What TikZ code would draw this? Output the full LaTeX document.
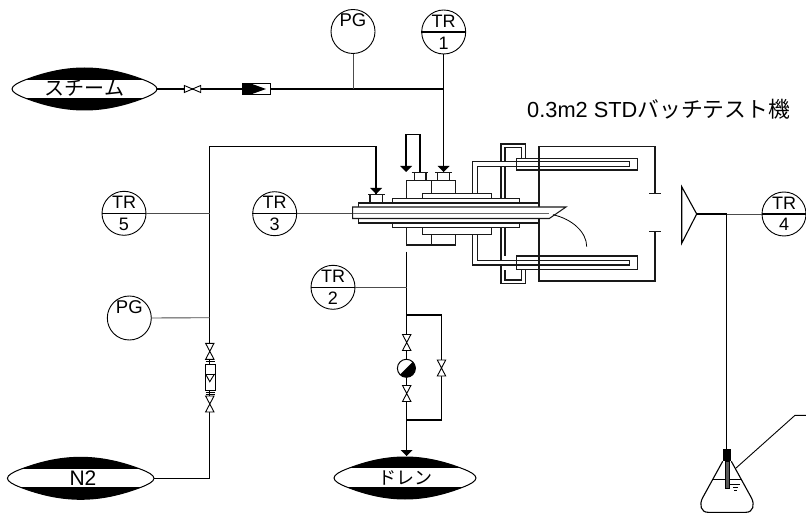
\documentclass[tikz,border=0pt]{standalone}
\usepackage{fontspec}
\setmainfont{Liberation Sans}
\newfontfamily\cjk{Noto Sans CJK JP}
\tikzset{
  pipe/.style={line width=1.05pt,draw=black},
  thinpipe/.style={line width=0.9pt,draw=black!70},
  inst/.style={circle,draw=black,line width=0.9pt,minimum size=44pt,inner sep=0pt,fill=white},
  divider/.style={line width=1.1pt,draw=black},
  instxt/.style={inner sep=0pt,font=\fontsize{18}{18}\selectfont},
  pgtxt/.style={inner sep=0pt,font=\fontsize{18.5}{18.5}\selectfont},
  vessel/.style={line width=1.05pt,draw=black!90},
  hvalve/.pic={\draw[line width=0.9pt,fill=white] (-8.2,-3.5)--(8.2,3.5)--(8.2,-3.5)--(-8.2,3.5)--cycle;},
  vvalve/.pic={\draw[line width=0.9pt,fill=white] (-4.2,-8)--(4.2,8)--(-4.2,8)--(4.2,-8)--cycle;},
  downhead/.pic={\fill[black] (-6,-6)--(6,-6)--(0,0)--cycle;},
}
\newcommand{\lensoutline}[4]{%
  (#1-#3,#2) .. controls (#1-#3,#2-#4*0.15) and (#1-#3*0.92,#2-#4*0.3) .. (#1-#3*0.82,#2-#4*0.43)
  .. controls (#1-#3*0.57,#2-#4*0.76) and (#1-#3*0.3,#2-#4) .. (#1,#2-#4)
  .. controls (#1+#3*0.3,#2-#4) and (#1+#3*0.57,#2-#4*0.76) .. (#1+#3*0.82,#2-#4*0.43)
  .. controls (#1+#3*0.92,#2-#4*0.3) and (#1+#3,#2-#4*0.15) .. (#1+#3,#2)
  .. controls (#1+#3,#2+#4*0.15) and (#1+#3*0.92,#2+#4*0.3) .. (#1+#3*0.82,#2+#4*0.43)
  .. controls (#1+#3*0.57,#2+#4*0.76) and (#1+#3*0.3,#2+#4) .. (#1,#2+#4)
  .. controls (#1-#3*0.3,#2+#4) and (#1-#3*0.57,#2+#4*0.76) .. (#1-#3*0.82,#2+#4*0.43)
  .. controls (#1-#3*0.92,#2+#4*0.3) and (#1-#3,#2+#4*0.15) .. (#1-#3,#2) -- cycle}
\newcommand{\lensbody}[6]{% cx, cy, half width, half height, band top, band bottom
  \begin{scope}
    \clip \lensoutline{#1}{#2}{#3}{#4};
    \fill[black] (#1-#3,#2-#4) rectangle (#1+#3,#2+#4);
    \fill[white] (#1-#3,#5) rectangle (#1+#3,#6);
  \end{scope}
  \draw[line width=1pt] \lensoutline{#1}{#2}{#3}{#4};
}
\begin{document}
\begin{tikzpicture}[x=1pt,y=-1pt]
\useasboundingbox (0,0) rectangle (806,513);

% ---------- named points
\coordinate (steamout) at (157,89);
\coordinate (n2out) at (154,478.3);
\coordinate (j1) at (443.7,89);
\coordinate (jpg) at (353,89);
\coordinate (jc1) at (209.8,478.3);
\coordinate (jc2) at (209.8,146.7);
\coordinate (jc3) at (376,146.7);
\coordinate (j5) at (209.8,213.3);
\coordinate (j6) at (209.8,317.7);
\coordinate (a3) at (376,194);
\coordinate (a1) at (443.7,172);
\coordinate (drtop) at (406.7,251.7);
\coordinate (drbot) at (406.7,456);
\coordinate (j2) at (406.7,287.3);
\coordinate (byt) at (406.7,315);
\coordinate (byb) at (406.7,420);
\coordinate (bytr) at (441.5,315);
\coordinate (bybr) at (441.5,420);
\coordinate (core) at (352.7,213.7);
\coordinate (hornt) at (696.7,214);
\coordinate (j4) at (726.7,214);
\coordinate (stopper) at (726.7,449.5);

% ---------- feed lenses
\lensbody{84.5}{89}{72.5}{21}{80}{98}
\node[inner sep=0pt,font=\cjk\fontsize{20}{20}\selectfont] (steam) at (84.5,88.5) {スチーム};
\lensbody{80.7}{478.3}{73.3}{21}{469}{487.3}
\node[inner sep=0pt,font=\fontsize{21}{21}\selectfont] (n2) at (83,478.5) {N2};
\lensbody{405}{478}{71}{21}{468.3}{487.3}
\node[inner sep=0pt,font=\cjk\fontsize{18}{18}\selectfont] (drain) at (405,477.5) {ドレン};

% ---------- pipes
\draw[pipe] (steamout) -- (jpg) -- (j1);
\draw[pipe] (j1) -- (a1);
\draw[pipe] (n2out) -- (jc1) -- (jc2) -- (jc3) -- (a3);
\draw[pipe] (drtop) -- (drbot);
\draw[pipe] (byt) -- (bytr) -- (bybr) -- (byb);
\draw[pipe] (j4) -- (stopper);
\draw[pipe] (hornt) -- (j4);

% ---------- instruments
\node[inst] (pgtop) at (353,31.5) {};
\node[pgtxt] at (353,20) {PG};
\draw[thinpipe] (pgtop.south) -- (jpg);

\node[inst] (tr1) at (443.7,32) {};
\draw[divider] (tr1.west) -- (tr1.east);
\node[instxt] at (443.7,21.5) {TR};
\node[instxt] at (443.7,43) {1};
\draw[pipe] (tr1.south) -- (j1);

\node[inst] (tr5) at (124,213.3) {};
\draw[divider] (tr5.west) -- (tr5.east);
\node[instxt] at (124,202.7) {TR};
\node[instxt] at (124,224) {5};
\draw[thinpipe] (tr5.east) -- (j5);

\node[inst] (pgleft) at (129.3,318) {};
\node[pgtxt] at (129.3,306.7) {PG};
\draw[thinpipe] (pgleft.east) -- (j6);

\node[inst] (tr3) at (274.7,213.7) {};
\draw[divider] (tr3.west) -- (tr3.east);
\node[instxt] at (274.7,202.7) {TR};
\node[instxt] at (274.7,224) {3};
\draw[thinpipe] (tr3.east) -- (core);

\node[inst] (tr2) at (333,287.3) {};
\draw[divider] (tr2.west) -- (tr2.east);
\node[instxt] at (333,276) {TR};
\node[instxt] at (333,298) {2};
\draw[thinpipe] (tr2.east) -- (j2);

\node[inst] (tr4) at (784,214) {};
\draw[divider] (tr4.west) -- (tr4.east);
\node[instxt] at (784,203) {TR};
\node[instxt] at (784,224.5) {4};
\draw[thinpipe] (j4) -- (tr4.west);

% ---------- steam line fittings
\pic at (192.5,89) {hvalve};
\draw[line width=0.9pt,fill=white] (242.3,83.5) rectangle (270.7,94.5);
\fill[black] (242.3,83.5) rectangle (250.7,94.5);
\fill[black] (250.7,83.5) -- (266,89) -- (250.7,94.5) -- cycle;

% ---------- N2 line fittings
\pic at (209.8,351.3) {vvalve};
\draw[line width=0.9pt] (205.5,361.8)--(214.5,361.8);
\draw[line width=0.9pt,fill=white] (205,364.3) rectangle (215,390);
\draw[line width=0.9pt] (205,374)--(215,374);
\draw[line width=0.9pt] (205.5,374)--(209.8,381.7)--(214.5,374);
\draw[line width=0.9pt] (205.5,392.3)--(214.5,392.3) (205.5,394.3)--(214.5,394.3);
\pic at (209.8,404) {vvalve};

% ---------- drain fittings
\pic at (406.7,342.5) {vvalve};
\pic at (406.7,393.5) {vvalve};
\pic at (441.5,368) {vvalve};
\draw[line width=1pt,fill=white] (406.4,368.3) circle (9);
\fill[black] (406.4,368.3) ++(135:9) arc[start angle=135,end angle=-45,radius=9] -- cycle;
\pic at (drbot) {downhead};

% ---------- arrows into vessel
\draw[pipe] (420,172) -- (420,134.7) -- (406,134.7) -- (406,168);

% ---------- vessel: jackets
\draw[vessel] (501,203) -- (501,144) -- (525.7,144) -- (525.7,158.3);
\draw[vessel] (505,203) -- (505,147.7) -- (521.7,147.7) -- (521.7,158.3);
\draw[vessel] (501,227) -- (501,283.3) -- (525.7,283.3) -- (525.7,269.3);
\draw[vessel] (505,227) -- (505,256) (505,270) -- (505,280) -- (521.7,280) -- (521.7,269.3);

% ---------- vessel: outer shell and detector housing
\draw[vessel] (539,203) -- (539,146.7) -- (655,146.7) -- (655,193.5);
\draw[vessel] (649,193.5) -- (660.5,193.5);
\draw[vessel] (539,223) -- (539,281) -- (655,281) -- (655,231.7);
\draw[vessel] (649,231.7) -- (660.5,231.7);

% ---------- vessel: horizontal tubes
\fill[white] (472.7,161.7) rectangle (516.7,166.7);
\fill[white] (472.7,260.7) rectangle (516.7,265);
\draw[vessel] (477.3,193.7) -- (477.3,166.7) -- (629.7,166.7) -- (629.7,161.7) -- (472.7,161.7) -- (472.7,193.7);
\draw[vessel] (477.3,234.3) -- (477.3,260.7) -- (629.7,260.7) -- (629.7,265) -- (472.7,265) -- (472.7,234.3);
\draw[vessel] (516.7,158.3) rectangle (637.3,170);
\draw[vessel] (516.7,256) rectangle (637.3,269.3);

% ---------- vessel: centre assembly
\draw[vessel] (406.7,180.7) rectangle (431.7,198.3);
\draw[vessel] (431.7,180.7) rectangle (455.3,194);
\draw[vessel] (406.7,227.3) rectangle (431.7,245);
\draw[vessel] (431.7,227.3) rectangle (455.3,245);
\draw[vessel,fill=white] (422.7,193.7) rectangle (491.7,198.3);
\draw[vessel,fill=white] (422.7,227.3) rectangle (491.7,234.3);
\draw[vessel,fill=white] (392.7,198.3) rectangle (519.3,203);
\draw[vessel,fill=white] (392.7,223) rectangle (519.3,227.3);
\draw[vessel,fill=white] (358.3,203) rectangle (539,223);
\draw[vessel,fill=white] (352.7,207) -- (566,207) -- (549.3,218.5) -- (352.7,218.5) -- cycle;
\draw[line width=0.9pt,draw=black!60] (core) -- (549,213.7);
\draw[line width=0.8pt] (553,214.7) .. controls (572,219) and (586.7,232) .. (586.7,246.7);

% ---------- nozzles and their arrowheads
\draw[vessel,fill=white] (414.3,172.3) rectangle (426,180.7);
\draw[vessel] (411.7,172.3) -- (427.7,172.3);
\draw[vessel,fill=white] (437.7,172.3) rectangle (449.3,180.7);
\draw[vessel] (435,172.3) -- (451.7,172.3);
\draw[vessel,fill=white] (370,194.3) rectangle (382.7,203);
\draw[vessel] (368.3,194.3) -- (385,194.3);
\pic at (406,172) {downhead};
\pic at (a1) {downhead};
\pic at (a3) {downhead};

% ---------- horn
\draw[line width=1.1pt,line join=miter] (681.7,186.7) -- (hornt) -- (681.7,243.3) -- cycle;

% ---------- flask
\fill[black] (722.7,449.3) rectangle (731.3,461.3);
\draw[line width=1.1pt] (722.7,461.3) -- (702.5,498) .. controls (699,505) and (701,512.3) .. (708,512.3) -- (746,512.3) .. controls (753,512.3) and (755,505) .. (751.5,498) -- (731.3,461.3);
\draw[line width=1pt] (712.3,479.7) -- (741,479.7);
\draw[line width=0.9pt,fill=black!65] (725.7,461) rectangle (729,488.3);
\draw[line width=0.9pt] (730,484.3) -- (740,484.3) (733,487.2) -- (738,487.2) (734.2,490) -- (736.8,490);
\draw[line width=0.9pt] (735.7,468.3) -- (795,415.3) -- (806,415.3);

% ---------- title
\node[anchor=base west,inner sep=0pt,font=\fontsize{21.8}{21.8}\selectfont] (title) at (527,117.3) {0.3m2 STD{\cjk バッチテスト機}};
\end{tikzpicture}
\end{document}
